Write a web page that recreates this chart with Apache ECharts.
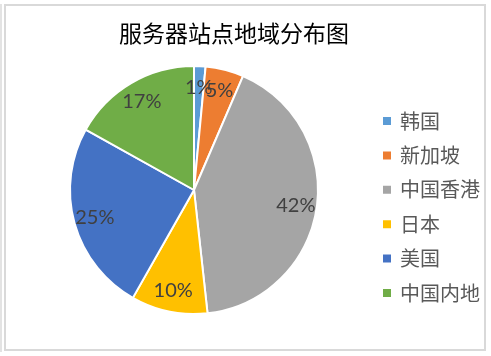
<!DOCTYPE html>
<html>
<head>
<meta charset="utf-8">
<script src="https://cdn.jsdelivr.net/npm/echarts@6/dist/echarts.min.js"></script>
<style>
  html, body { margin: 0; padding: 0; background: #fff; }
  #chart { position: absolute; left: 0; top: 0; width: 491px; height: 356px; }
  .frame { position: absolute; left: 4px; top: 4px; width: 478px; height: 343px; border: 2px solid #d9d9d9; pointer-events: none; }
  .edge { position: absolute; left: 0; top: 4px; width: 2px; height: 348px; background: #e3e3e3; }
</style>
</head>
<body>
<div id="chart"></div>
<div class="frame"></div>
<div class="edge"></div>
<script>
const title = '服务器站点地域分布图';
const regions = ['韩国', '新加坡', '中国香港', '日本', '美国', '中国内地'];
const shares = [1.5, 5, 42, 10, 25, 17];
const colors = ['#5B9BD5', '#ED7D31', '#A5A5A5', '#FFC000', '#4472C4', '#70AD47'];

const chartInstance = echarts.init(document.getElementById('chart'));

const pieData = regions.map((name, i) => ({ name: name, value: shares[i] }));

const option = {
  color: colors,
  animation: false,
  title: {
    text: title,
    left: 114,
    top: 17,
    textStyle: {
      fontFamily: 'Noto Sans CJK SC',
      fontSize: 23,
      fontWeight: 'normal',
      color: '#000'
    }
  },
  legend: {
    orient: 'vertical',
    left: 381,
    top: 111,
    padding: 0,
    itemWidth: 10,
    itemHeight: 10,
    itemGap: 14.4,
    icon: 'rect',
    data: regions,
    textStyle: {
      fontFamily: 'Noto Sans CJK SC',
      fontSize: 20,
      lineHeight: 20,
      color: '#595959',
      padding: [0, 0, 0, 3]
    }
  },
  series: [
    {
      type: 'pie',
      center: [194, 190],
      radius: 124,
      startAngle: 90,
      clockwise: true,
      label: { show: false },
      labelLine: { show: false },
      itemStyle: { borderColor: '#fff', borderWidth: 2 },
      data: pieData
    },
    {
      // transparent ring only to carry the percentage labels at ~0.8 of the radius
      type: 'pie',
      center: [194, 190],
      radius: [76, 124],
      startAngle: 90,
      clockwise: true,
      silent: true,
      avoidLabelOverlap: false,
      minShowLabelAngle: 0,
      itemStyle: { color: 'rgba(0,0,0,0)' },
      labelLine: { show: false },
      labelLayout: { hideOverlap: false },
      label: {
        show: true,
        position: 'inside',
        fontFamily: 'Lato',
        fontSize: 20,
        color: '#404040',
        formatter: p => Math.round(p.percent) + '%'
      },
      data: pieData
    }
  ]
};

chartInstance.setOption(option);
</script>
</body>
</html>
